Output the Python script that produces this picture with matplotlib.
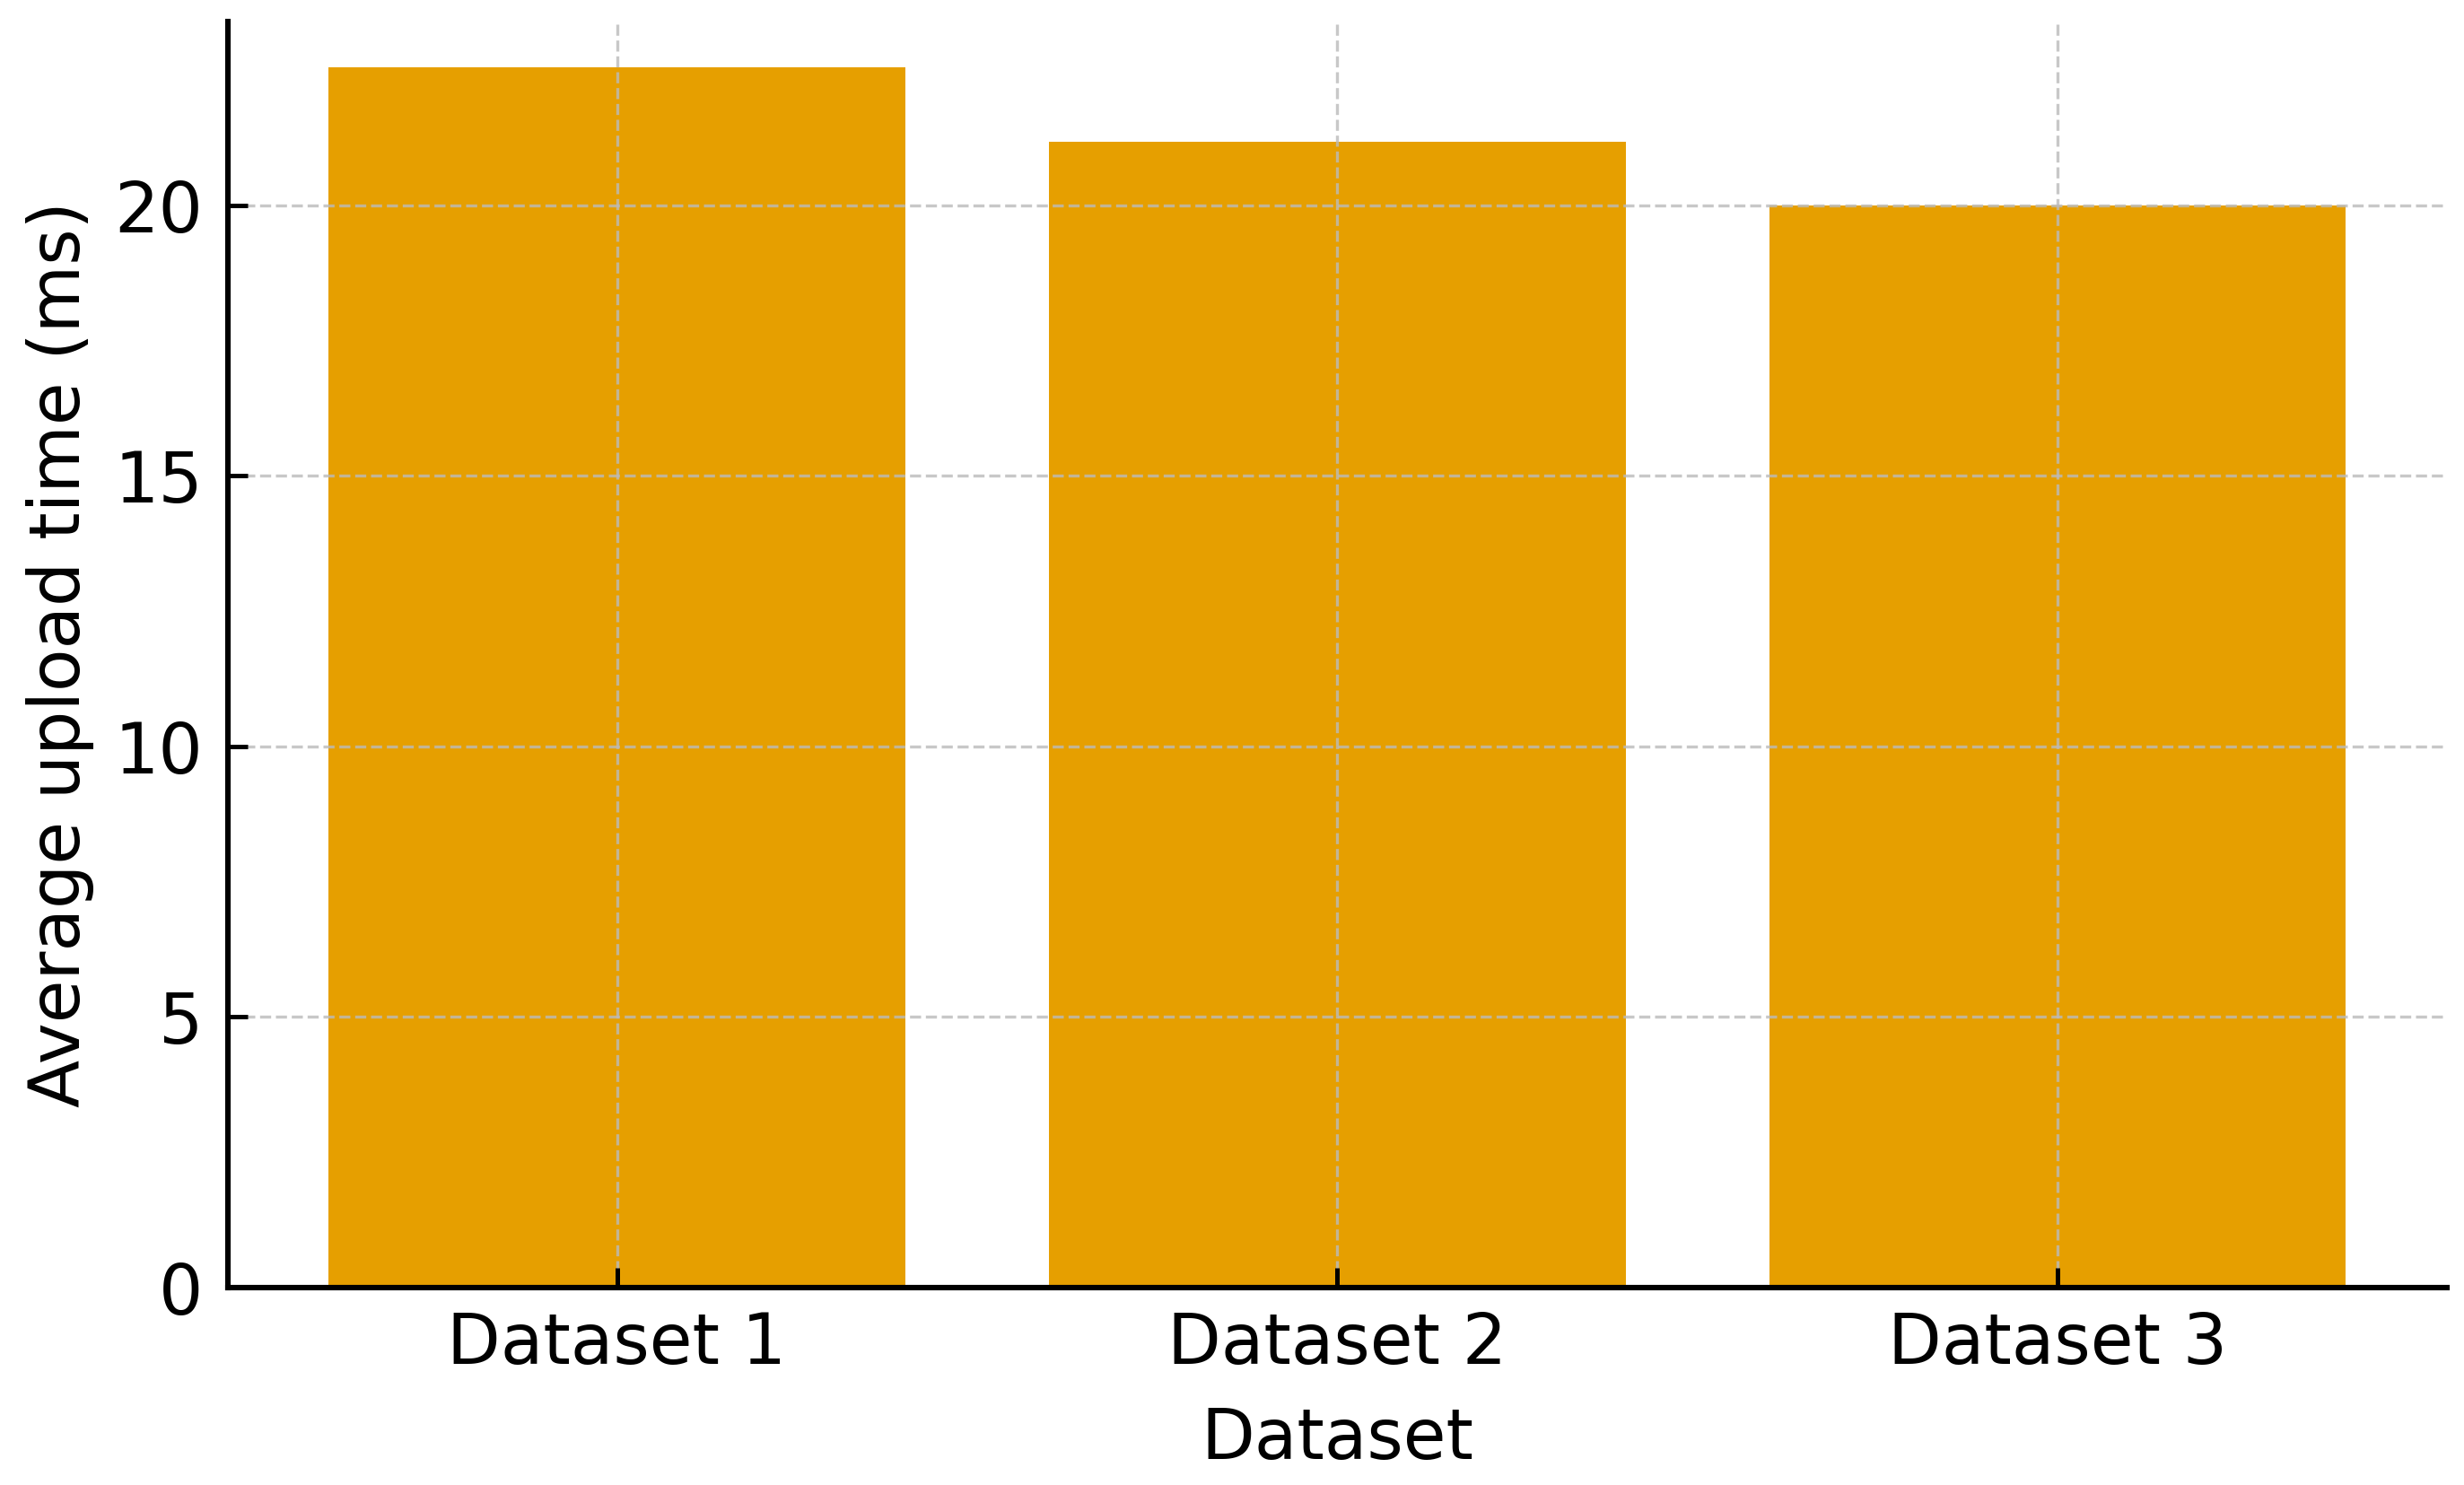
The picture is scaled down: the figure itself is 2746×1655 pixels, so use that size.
import matplotlib
matplotlib.use("Agg")
import matplotlib.pyplot as plt

# Data
datasets = ["Dataset 1", "Dataset 2", "Dataset 3"]
upload_ms = [22.55, 21.18, 20.0]

bar_color = "#E69F00"

fig = plt.figure(figsize=(13.73, 8.275), dpi=200)
ax = fig.add_axes([0.0925, 0.133, 0.9005, 0.8525])

ax.bar(datasets, upload_ms, color=bar_color, width=0.8, zorder=1)

ax.set_ylim(0, 23.4)
ax.set_yticks([0, 5, 10, 15, 20])

ax.set_xlabel("Dataset", fontsize=28, labelpad=11)
ax.set_ylabel("Average upload time (ms)", fontsize=28, labelpad=8)
ax.tick_params(axis="both", direction="in", labelsize=28, length=8, width=1.8)
ax.tick_params(axis="x", pad=9)
ax.tick_params(axis="y", pad=10)

ax.spines["top"].set_visible(False)
ax.spines["right"].set_visible(False)
for side in ["left", "bottom"]:
    ax.spines[side].set_linewidth(2.2)
    ax.spines[side].set_zorder(5)

ax.grid(True, linestyle="--", color="#bbbbbb", linewidth=1.2, alpha=0.8, zorder=3)
ax.set_axisbelow(False)

fig.savefig("out.png", dpi=200)
